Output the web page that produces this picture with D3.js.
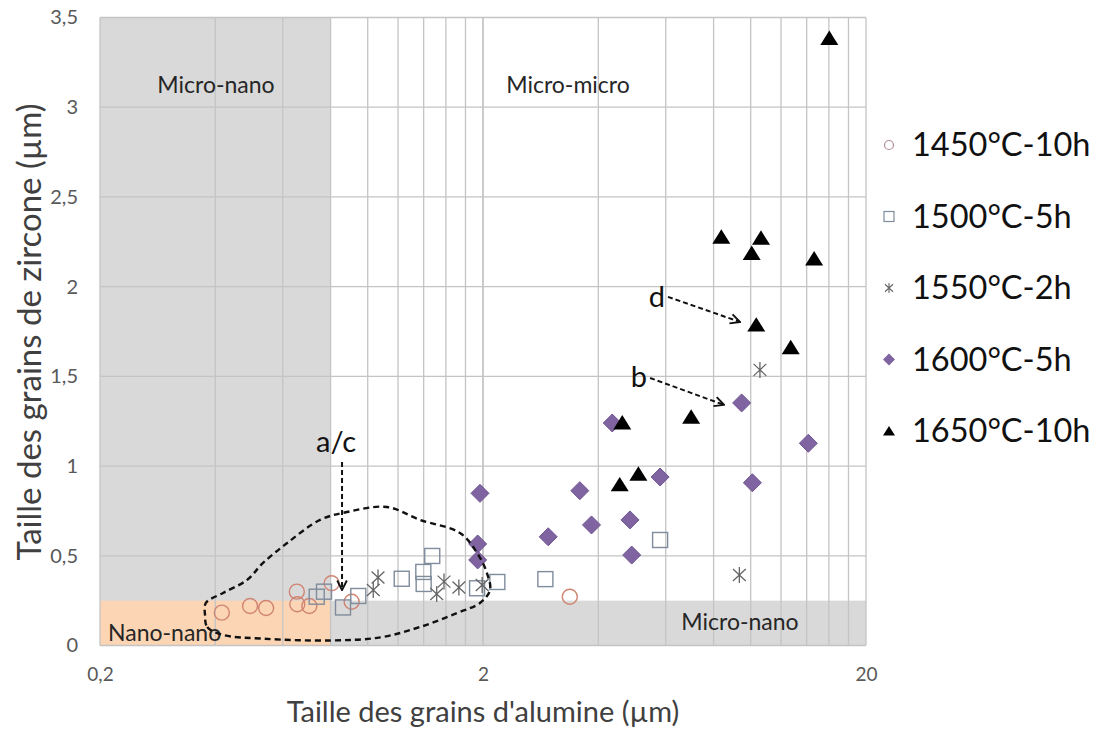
<!DOCTYPE html>
<html><head><meta charset="utf-8">
<script src="https://cdn.jsdelivr.net/npm/d3@7/dist/d3.min.js"></script>
<style>
html,body{margin:0;padding:0;background:#fff;}
svg{display:block;font-family:Lato,"Open Sans",sans-serif;}
</style></head>
<body>
<svg id="chart" width="1100" height="731"></svg>
<script>
// ---------- data ----------
const xTickValues = [0.2, 2, 20];
const xTickLabels = ["0,2", "2", "20"];
const yTickValues = [0, 0.5, 1, 1.5, 2, 2.5, 3, 3.5];
const yTickLabels = ["0", "0,5", "1", "1,5", "2", "2,5", "3", "3,5"];
const seriesNames = ["1450°C-10h", "1500°C-5h", "1550°C-2h", "1600°C-5h", "1650°C-10h"];

const s1450 = [[0.416,0.183],[0.493,0.22],[0.543,0.209],[0.653,0.30],[0.655,0.23],[0.704,0.22],[0.805,0.347],[0.908,0.244],[3.37,0.272]];
const s1500 = [[0.736,0.272],[0.769,0.30],[0.862,0.212],[0.945,0.276],[1.227,0.372],[1.397,0.41],[1.40,0.343],[1.474,0.499],[1.93,0.319],[2.18,0.354],[2.91,0.37],[5.80,0.588]];
const s1550 = [[1.064,0.379],[1.034,0.309],[1.582,0.356],[1.514,0.287],[1.73,0.323],[1.99,0.337],[9.34,0.393],[10.57,1.536]];
const s1600 = [[1.964,0.848],[1.937,0.566],[1.937,0.477],[2.96,0.606],[3.58,0.863],[3.84,0.672],[4.35,1.24],[4.84,0.70],[4.89,0.504],[5.80,0.939],[9.47,1.352],[10.1,0.907],[14.14,1.127]];
const s1650 = [[16.04,3.385],[8.38,2.277],[10.64,2.271],[10.06,2.186],[14.64,2.156],[10.34,1.787],[12.72,1.661],[6.99,1.274],[4.62,1.242],[5.09,0.956],[4.55,0.897]];

// zones: [x0, x1, y0, y1]
const zoneNames = ["Micro-nano", "Micro-micro", "Nano-nano", "Micro-nano"];
const greyZoneLeft = [0.2, 0.8, 0, 3.5];
const greyZoneBottom = [0.8, 20, 0, 0.25];
const orangeZone = [0.2, 0.8, 0, 0.25];

// annotation envelope (a/c region)
const envelope = [[0.376,0.170],[0.381,0.103],[0.419,0.059],[0.533,0.038],[0.797,0.028],[1.077,0.045],[1.369,0.103],[1.711,0.181],[1.964,0.237],[2.086,0.309],[2.048,0.404],[1.93,0.516],[1.742,0.627],[1.369,0.70],[1.123,0.772],[0.883,0.744],[0.751,0.70],[0.616,0.571],[0.533,0.46],[0.484,0.365],[0.419,0.293],[0.378,0.237]];
const arrowLabels = ["a/c", "d", "b"];
const arrowAC = [[0.857,1.023],[0.857,0.309]];
const arrowD = [[6.08,1.943],[9.38,1.803]];
const arrowB = [[5.46,1.491],[8.52,1.341]];

// ---------- drawing ----------
const svg = d3.select("#chart");
const x = d3.scaleLog().domain([0.2, 20]).range([100, 866]);
const y = d3.scaleLinear().domain([0, 3.5]).range([645.5, 17.5]);

const defs = svg.append("defs");
defs.append("marker").attr("id","ah").attr("viewBox","0 0 10 10").attr("refX",9).attr("refY",5)
  .attr("markerWidth",6).attr("markerHeight",6).attr("orient","auto")
  .append("path").attr("d","M1,1 L9,5 L1,9").attr("fill","none").attr("stroke","#111").attr("stroke-width",1.6);

// zones
function rectZone(z, fill){
  svg.append("rect").attr("x", x(z[0])).attr("y", y(z[3]))
    .attr("width", x(z[1]) - x(z[0])).attr("height", y(z[2]) - y(z[3])).attr("fill", fill);
}
rectZone(greyZoneLeft, "#d9d9d9");
rectZone(greyZoneBottom, "#d9d9d9");
rectZone(orangeZone, "#fcd5b4");

// gridlines
const minorX = [];
[0.2, 2].forEach(d => { for (let k = 1; k <= 10; k++) minorX.push(d * k); });
const grid = svg.append("g").attr("stroke", "#c4c4c4").attr("stroke-width", 1.3);
grid.selectAll("line.v").data(minorX).join("line")
  .attr("x1", d => x(d)).attr("x2", d => x(d)).attr("y1", y(0)).attr("y2", y(3.5));
grid.selectAll("line.h").data(yTickValues).join("line")
  .attr("x1", x(0.2)).attr("x2", x(20)).attr("y1", d => y(d)).attr("y2", d => y(d));

// axes labels
const xAxis = d3.axisBottom(x).tickValues(xTickValues).tickSize(0).tickPadding(0)
  .tickFormat((d, i) => xTickLabels[i]);
const gx = svg.append("g").attr("transform", `translate(0,${y(0) + 22})`).call(xAxis);
gx.select(".domain").remove();
gx.selectAll("text").attr("font-size", 19).attr("fill", "#595959").attr("font-family", "Lato");

const yAxis = d3.axisLeft(y).tickValues(yTickValues).tickSize(0).tickPadding(0)
  .tickFormat((d, i) => yTickLabels[i]);
const gy = svg.append("g").attr("transform", `translate(${x(0.2) - 22},0)`).call(yAxis);
gy.select(".domain").remove();
gy.selectAll("text").attr("font-size", 20).attr("fill", "#595959").attr("font-family", "Lato");

// titles
svg.append("text").attr("x", 483).attr("y", 722).attr("text-anchor", "middle")
  .attr("font-size", 29).attr("fill", "#404040").text("Taille des grains d'alumine (µm)");
svg.append("text").attr("transform", "translate(41,332) rotate(-90)").attr("text-anchor", "middle")
  .attr("font-size", 33).attr("fill", "#404040").text("Taille des grains de zircone (µm)");

// zone labels
const zl = svg.append("g").attr("font-size", 23).attr("fill", "#262626");
zl.append("text").attr("x", 216).attr("y", 93).attr("text-anchor", "middle").text(zoneNames[0]);
zl.append("text").attr("x", 568).attr("y", 93).attr("text-anchor", "middle").text(zoneNames[1]);
zl.append("text").attr("x", 108).attr("y", 641).attr("text-anchor", "start").text(zoneNames[2]);
zl.append("text").attr("x", 740).attr("y", 630).attr("text-anchor", "middle").text(zoneNames[3]);

// markers
const mk = svg.append("g");
mk.selectAll("circle.s1").data(s1450).join("circle")
  .attr("cx", d => x(d[0])).attr("cy", d => y(d[1])).attr("r", 7.5)
  .attr("fill", "none").attr("stroke", "#d08472").attr("stroke-width", 1.4);
mk.selectAll("rect.s2").data(s1500).join("rect")
  .attr("x", d => x(d[0]) - 7.5).attr("y", d => y(d[1]) - 7.5).attr("width", 15).attr("height", 15)
  .attr("fill", "none").attr("stroke", "#7f8c9c").attr("stroke-width", 1.4);
const ast = s => `M0,${-s}L0,${s}M${-s*0.8},${-s*0.75}L${s*0.8},${s*0.75}M${-s*0.8},${s*0.75}L${s*0.8},${-s*0.75}`;
mk.selectAll("path.s3").data(s1550).join("path")
  .attr("transform", d => `translate(${x(d[0])},${y(d[1])})`).attr("d", ast(8))
  .attr("fill", "none").attr("stroke", "#666", ).attr("stroke-width", 1.3);
const diamond = s => `M0,${-s}L${s},0L0,${s}L${-s},0Z`;
mk.selectAll("path.s4").data(s1600).join("path")
  .attr("transform", d => `translate(${x(d[0])},${y(d[1])})`).attr("d", diamond(9))
  .attr("fill", "#8064a2").attr("stroke", "#6f5590").attr("stroke-width", 1);
const tri = s => `M0,${-s*0.85}L${s},${s*0.75}L${-s},${s*0.75}Z`;
mk.selectAll("path.s5").data(s1650).join("path")
  .attr("transform", d => `translate(${x(d[0])},${y(d[1])})`).attr("d", tri(9))
  .attr("fill", "#000");

// envelope
const line = d3.line().x(d => x(d[0])).y(d => y(d[1])).curve(d3.curveCatmullRomClosed.alpha(0.5));
svg.append("path").attr("d", line(envelope)).attr("fill", "none").attr("stroke", "#111")
  .attr("stroke-width", 2.4).attr("stroke-dasharray", "6,4");

// arrows
[arrowAC, arrowD, arrowB].forEach(a => {
  svg.append("line").attr("x1", x(a[0][0])).attr("y1", y(a[0][1])).attr("x2", x(a[1][0])).attr("y2", y(a[1][1]))
    .attr("stroke", "#111").attr("stroke-width", 2).attr("stroke-dasharray", "5,3").attr("marker-end", "url(#ah)");
});
const al = svg.append("g").attr("font-size", 29).attr("fill", "#111");
al.append("text").attr("x", x(arrowAC[0][0]) - 6).attr("y", y(arrowAC[0][1]) - 10).attr("text-anchor", "middle").text(arrowLabels[0]);
al.append("text").attr("x", x(arrowD[0][0]) - 3).attr("y", y(arrowD[0][1]) + 10).attr("text-anchor", "end").text(arrowLabels[1]);
al.append("text").attr("x", x(arrowB[0][0]) - 3).attr("y", y(arrowB[0][1]) + 9).attr("text-anchor", "end").text(arrowLabels[2]);

// legend
const lg = svg.append("g").attr("transform", "translate(889,145)");
const rowH = 71.5;
const items = lg.selectAll("g").data(seriesNames).join("g").attr("transform", (d, i) => `translate(0,${i * rowH})`);
items.append("text").attr("x", 23).attr("y", 0).attr("dy", "0.35em").attr("font-size", 32.5).attr("fill", "#111").text(d => d);
items.each(function(d, i) {
  const g = d3.select(this);
  if (i === 0) g.append("circle").attr("r", 4.5).attr("fill", "none").attr("stroke", "#b08a98").attr("stroke-width", 1.2);
  if (i === 1) g.append("rect").attr("x", -5).attr("y", -5).attr("width", 10).attr("height", 10).attr("fill", "none").attr("stroke", "#7f8c9c").attr("stroke-width", 1.2);
  if (i === 2) g.append("path").attr("d", ast(5)).attr("fill", "none").attr("stroke", "#666").attr("stroke-width", 1.1);
  if (i === 3) g.append("path").attr("d", diamond(6)).attr("fill", "#8064a2");
  if (i === 4) g.append("path").attr("d", tri(6)).attr("fill", "#000");
});
</script>
</body></html>
